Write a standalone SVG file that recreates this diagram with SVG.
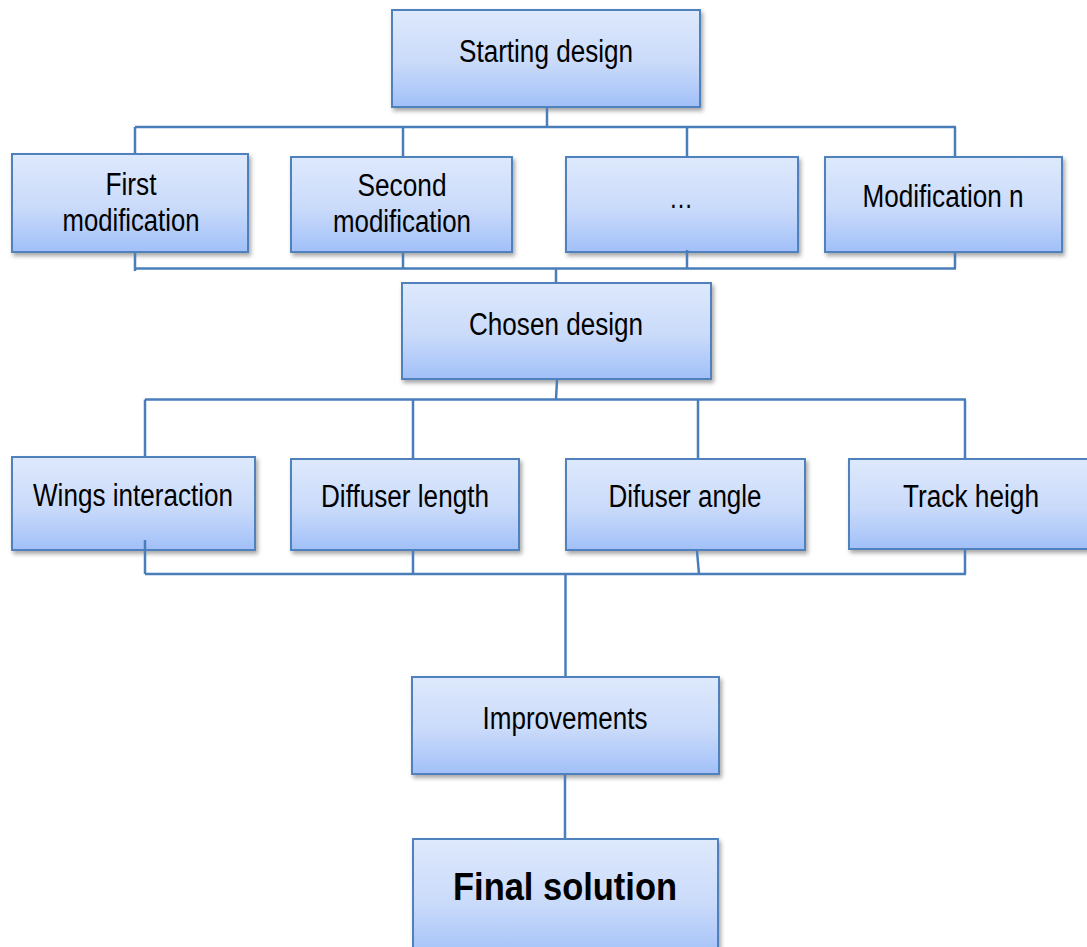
<svg xmlns="http://www.w3.org/2000/svg" width="1087" height="947" viewBox="0 0 1087 947">
<defs>
<linearGradient id="g" x1="0" y1="0" x2="0" y2="1">
<stop offset="0" stop-color="#dee9fc"/>
<stop offset="0.55" stop-color="#c9dafa"/>
<stop offset="1" stop-color="#a1c0f8"/>
</linearGradient>
<filter id="sh" x="-10%" y="-10%" width="120%" height="130%">
<feDropShadow dx="2" dy="3" stdDeviation="2" flood-color="#000" flood-opacity="0.35"/>
</filter>
</defs>
<style>
.box{fill:url(#g);stroke:#4f81bd;stroke-width:2;filter:url(#sh)}
.t{font-family:"Liberation Sans",Arial,sans-serif;font-size:31px;fill:#000;text-anchor:middle}
.b{font-family:"Liberation Sans",Arial,sans-serif;font-size:38px;font-weight:bold;fill:#000;text-anchor:middle}
.c{fill:none;stroke:#4a7ebb;stroke-width:2.5}
</style>
<rect width="1087" height="947" fill="#fff"/>
<g id="n-start"><rect class="box" x="392" y="10" width="308" height="97"/><text class="t" x="546" y="62" textLength="174" lengthAdjust="spacingAndGlyphs">Starting design</text></g>
<g id="n-first"><rect class="box" x="12" y="154" width="236" height="98"/><text class="t" x="131" y="195" textLength="51" lengthAdjust="spacingAndGlyphs">First</text><text class="t" x="131" y="231" textLength="137" lengthAdjust="spacingAndGlyphs">modification</text></g>
<g id="n-second"><rect class="box" x="291" y="157" width="221" height="95"/><text class="t" x="402" y="196" textLength="89" lengthAdjust="spacingAndGlyphs">Second</text><text class="t" x="402" y="232" textLength="138" lengthAdjust="spacingAndGlyphs">modification</text></g>
<g id="n-dots"><rect class="box" x="566" y="157" width="232" height="95"/><text class="t" x="681" y="208" textLength="24" lengthAdjust="spacingAndGlyphs">…</text></g>
<g id="n-modn"><rect class="box" x="825" y="157" width="237" height="95"/><text class="t" x="943" y="207" textLength="161" lengthAdjust="spacingAndGlyphs">Modification n</text></g>
<g id="n-chosen"><rect class="box" x="402" y="283" width="309" height="96"/><text class="t" x="556" y="335" textLength="174" lengthAdjust="spacingAndGlyphs">Chosen design</text></g>
<g id="n-wings"><rect class="box" x="12" y="457" width="243" height="93"/><text class="t" x="133" y="506" textLength="200" lengthAdjust="spacingAndGlyphs">Wings interaction</text></g>
<g id="n-dlen"><rect class="box" x="291" y="459" width="228" height="91"/><text class="t" x="405" y="507" textLength="168" lengthAdjust="spacingAndGlyphs">Diffuser length</text></g>
<g id="n-dang"><rect class="box" x="566" y="459" width="239" height="91"/><text class="t" x="685" y="507" textLength="153" lengthAdjust="spacingAndGlyphs">Difuser angle</text></g>
<g id="n-track"><rect class="box" x="849" y="459" width="250" height="90"/><text class="t" x="971" y="507" textLength="136" lengthAdjust="spacingAndGlyphs">Track heigh</text></g>
<g id="n-impr"><rect class="box" x="412" y="677" width="307" height="97"/><text class="t" x="565" y="729" textLength="165" lengthAdjust="spacingAndGlyphs">Improvements</text></g>
<g id="n-final"><rect class="box" x="413" y="839" width="305" height="120"/><text class="b" x="565" y="900" textLength="224" lengthAdjust="spacingAndGlyphs">Final solution</text></g>
<g id="connectors">
<path class="c" d="M547 108V127M135 127H956M135 127V153M403 127V156M687 127V156M955 127V156"/>
<path class="c" d="M135 253V271M403 253V268.5M687 250V268.5M955 253V268.5M134 268.5H956M556 268.5V282"/>
<path class="c" d="M557 380L556 399.5M145 399.5H966M145 399.5V456M413 399.5V458M698 399.5V458M965 399.5V458"/>
<path class="c" d="M145 540V574M413 551V574M697 551L699 574M965 550V574M145 574H966M565.5 574V676"/>
<path class="c" d="M565 775V838"/>
</g>
</svg>
